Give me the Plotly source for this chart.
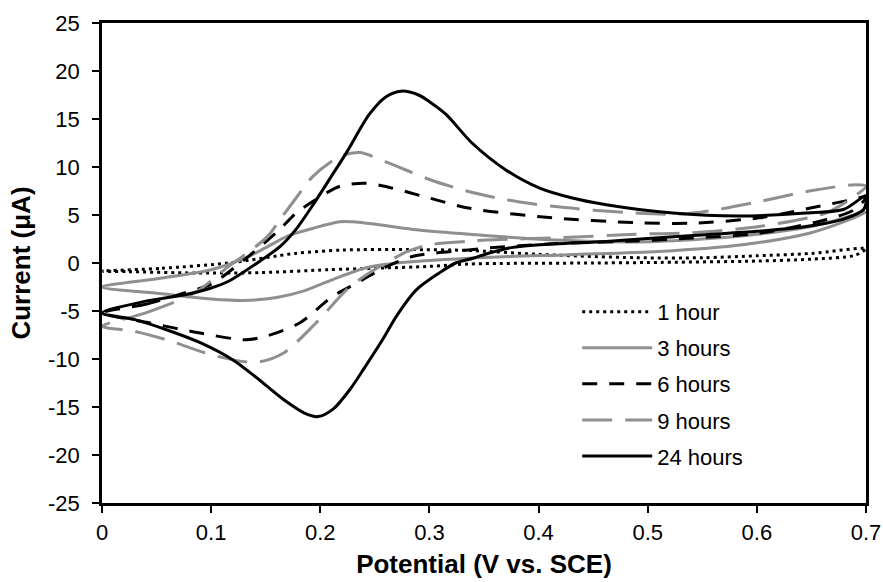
import plotly.graph_objects as go

# ---- data (potential V vs. SCE, current uA); forward scan then reverse scan ----
v_1h = [0, 0.055, 0.116, 0.177, 0.22, 0.28, 0.337, 0.40, 0.489, 0.55, 0.60, 0.65, 0.70,
        0.69, 0.65, 0.60, 0.50, 0.45, 0.337, 0.30, 0.25, 0.207, 0.146, 0.085, 0.024, 0]
i_1h = [-0.85, -0.55, 0.0, 1.0, 1.35, 1.4, 1.3, 0.9, 0.55, 0.55, 0.75, 1.0, 1.5,
        0.8, 0.4, 0.2, 0.05, 0.0, -0.1, -0.35, -0.55, -0.7, -1.0, -1.04, -0.9, -0.85]

v_3h = [0, 0.055, 0.10, 0.131, 0.15, 0.170, 0.193, 0.218, 0.239, 0.285, 0.337, 0.397, 0.489, 0.55, 0.60, 0.65, 0.70,
        0.68, 0.648, 0.587, 0.51, 0.428, 0.337, 0.27, 0.242, 0.212, 0.185, 0.16, 0.13, 0.10, 0.055, 0]
i_3h = [-2.5, -1.56, -0.7, 0.5, 1.6, 2.8, 3.6, 4.3, 4.2, 3.5, 3.0, 2.5, 2.2, 2.5, 3.0, 3.8, 5.3,
        4.3, 3.1, 1.9, 1.2, 0.87, 0.5, 0.0, -0.5, -1.7, -2.9, -3.6, -3.9, -3.75, -3.2, -2.5]

v_6h = [0, 0.04, 0.076, 0.10, 0.13, 0.161, 0.178, 0.193, 0.218, 0.242, 0.266, 0.294, 0.337, 0.413, 0.489, 0.541, 0.602, 0.648, 0.687, 0.70,
        0.69, 0.663, 0.602, 0.541, 0.489, 0.413, 0.352, 0.331, 0.285, 0.255, 0.235, 0.211, 0.181, 0.151, 0.132, 0.09, 0.044, 0]
i_6h = [-5.2, -4.3, -3.1, -2.2, 0.3, 3.3, 5.2, 6.4, 8.0, 8.3, 7.8, 6.95, 5.7, 4.7, 4.2, 4.15, 4.7, 5.7, 6.6, 6.9,
        5.6, 4.5, 3.1, 2.6, 2.3, 2.0, 1.55, 1.3, 0.7, -0.7, -2.0, -3.5, -6.25, -7.6, -8.0, -7.3, -6.25, -5.2]

v_9h = [0, 0.04, 0.085, 0.116, 0.135, 0.152, 0.163, 0.178, 0.193, 0.218, 0.236, 0.263, 0.30, 0.334, 0.37, 0.413, 0.489, 0.53, 0.56, 0.602, 0.648, 0.69, 0.70,
        0.69, 0.663, 0.602, 0.541, 0.489, 0.413, 0.352, 0.334, 0.30, 0.28, 0.26, 0.24, 0.224, 0.196, 0.166, 0.141, 0.105, 0.059, 0.029, 0]
i_9h = [-6.6, -5.2, -3.1, -0.35, 1.2, 2.8, 4.5, 6.8, 9.0, 11.1, 11.5, 10.4, 8.7, 7.5, 6.6, 5.9, 5.2, 5.1, 5.5, 6.4, 7.5, 8.15, 8.0,
        7.0, 5.2, 3.8, 3.15, 3.0, 2.6, 2.4, 2.25, 1.9, 1.2, 0.0, -1.4, -2.8, -6.25, -9.4, -10.35, -9.7, -8.0, -7.1, -6.6]

v_24h = [0, 0.039, 0.076, 0.10, 0.116, 0.146, 0.163, 0.177, 0.193, 0.21, 0.224, 0.245, 0.26, 0.274, 0.29, 0.30, 0.315, 0.339, 0.370, 0.401, 0.43, 0.462, 0.523, 0.583, 0.645, 0.68, 0.70,
         0.698, 0.68, 0.645, 0.60, 0.553, 0.50, 0.462, 0.401, 0.375, 0.355, 0.340, 0.324, 0.309, 0.288, 0.27, 0.257, 0.24, 0.227, 0.212, 0.198, 0.185, 0.166, 0.14, 0.12, 0.09, 0.059, 0.03, 0]
i_24h = [-5.2, -4.0, -3.3, -2.6, -1.9, 0.3, 1.7, 3.4, 6.0, 9.0, 11.5, 15.5, 17.3, 17.9, 17.5, 16.8, 15.5, 12.5, 9.7, 7.8, 6.8, 6.07, 5.2, 4.9, 5.2, 5.6, 7.0,
         5.6, 4.6, 3.8, 3.3, 2.95, 2.55, 2.25, 1.9, 1.6, 1.04, 0.5, 0.0, -1.04, -2.8, -5.5, -8.0, -11.0, -13.2, -15.2, -16.0, -15.6, -14.2, -11.8, -10.1, -8.3, -6.95, -5.9, -5.2]

series_names = ["1 hour", "3 hours", "6 hours", "9 hours", "24 hours"]
x_ticks = [0, 0.1, 0.2, 0.3, 0.4, 0.5, 0.6, 0.7]
y_ticks = [-25, -20, -15, -10, -5, 0, 5, 10, 15, 20, 25]

GRAY = "#8f8f8f"
FONT = "Liberation Sans, Arial, sans-serif"

styles = [
    dict(color="black", width=3, dash="3px,4px"),
    dict(color=GRAY, width=3, dash="solid"),
    dict(color="black", width=3, dash="15px,12px"),
    dict(color=GRAY, width=3, dash="30px,13px"),
    dict(color="black", width=3, dash="solid"),
]
data = [(v_1h, i_1h), (v_3h, i_3h), (v_6h, i_6h), (v_9h, i_9h), (v_24h, i_24h)]

fig = go.Figure()
for k, (name, (vx, iy), st) in enumerate(zip(series_names, data, styles)):
    fig.add_trace(go.Scatter(x=vx, y=iy, mode="lines", name=name, legendgroup=f"g{k}",
                             line=dict(shape="spline", smoothing=0.8, **st)))

axis_common = dict(showgrid=False, zeroline=False, linecolor="black", linewidth=2.5,
                   tickcolor="black", tickwidth=2, ticklen=7, ticks="outside",
                   tickfont=dict(family=FONT, size=22, color="black"), mirror=True,
                   automargin=False)

fig.update_layout(
    width=883, height=582,
    margin=dict(l=102, r=17, t=23, b=79),
    paper_bgcolor="white", plot_bgcolor="white",
    showlegend=True,
    legend=dict(x=0.622, y=0.442, xanchor="left", yanchor="top",
                bgcolor="rgba(0,0,0,0)", itemwidth=70,
                font=dict(family=FONT, size=22, color="black"),
                tracegroupgap=4.5),
    xaxis=dict(range=[0, 0.7], tickvals=x_ticks, ticktext=[str(t) for t in x_ticks],
               title=dict(text="<b>Potential (V vs. SCE)</b>", standoff=11,
                          font=dict(family=FONT, size=26, color="black")),
               ticklabelstandoff=1, **axis_common),
    yaxis=dict(range=[-25, 25], tickvals=y_ticks, ticktext=[str(t) for t in y_ticks],
               title=dict(text="<b>Current (μA)</b>", standoff=10,
                          font=dict(family=FONT, size=26, color="black")),
               ticklabelstandoff=8, **axis_common),
    xaxis2=dict(overlaying="x", matches="x", range=[0, 0.7], tickvals=x_ticks, ticks="inside",
                ticklen=7, tickwidth=2, tickcolor="black", showticklabels=False,
                showline=False, showgrid=False, zeroline=False, side="bottom"),
    yaxis2=dict(overlaying="y", matches="y", range=[-25, 25], tickvals=y_ticks, ticks="inside",
                ticklen=7, tickwidth=2, tickcolor="black", showticklabels=False,
                showline=False, showgrid=False, zeroline=False, side="left"),
)

fig.write_html("out.html")
